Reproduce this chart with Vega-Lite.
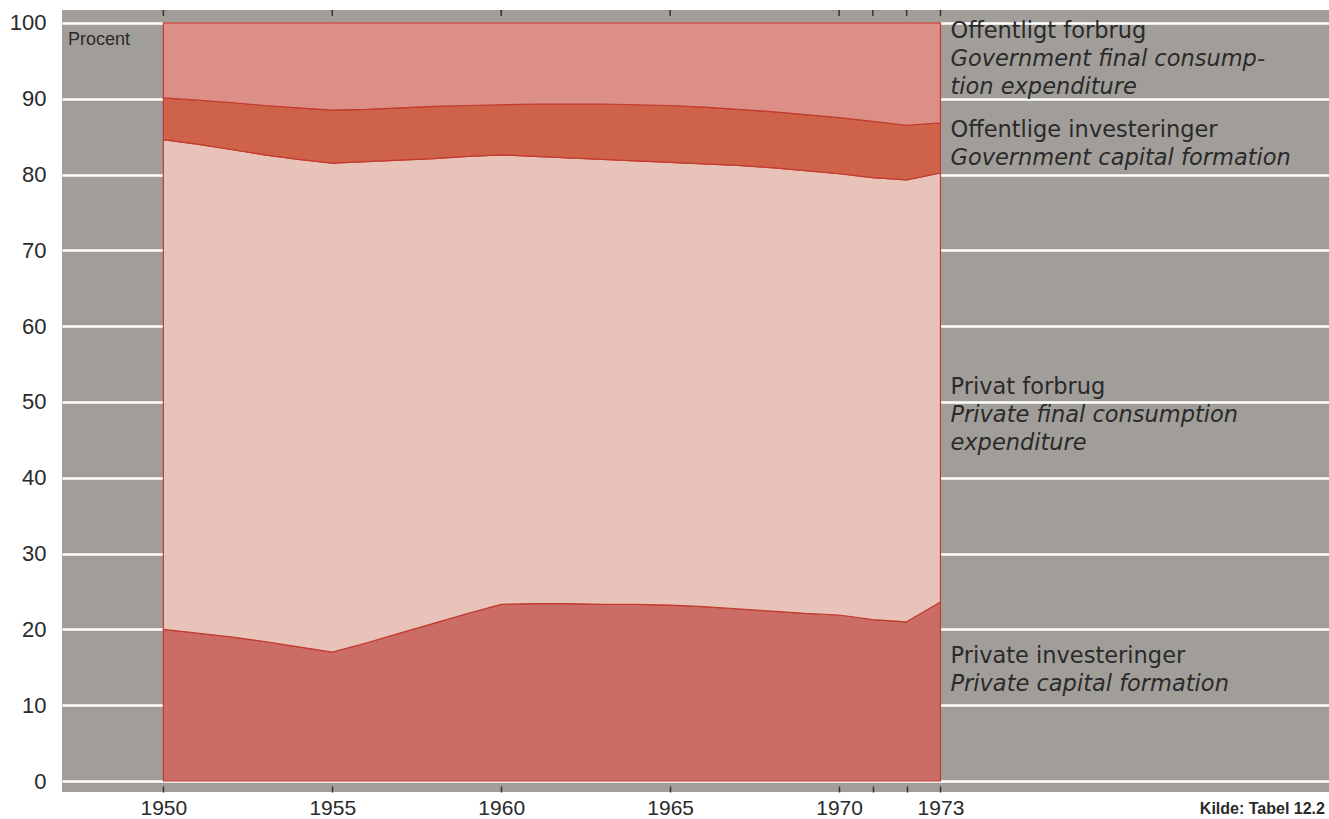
{
  "$schema": "https://vega.github.io/schema/vega-lite/v6.json",
  "width": 1267,
  "height": 782,
  "autosize": {"type": "none"},
  "padding": {"left": 62, "top": 10, "right": 0, "bottom": 27},
  "background": "#ffffff",
  "view": {"fill": "#a19e9a", "stroke": null},
  "config": {"font": "Liberation Sans"},
  "datasets": {
    "shares": [
      {"year":1950,"series":"Private investeringer","rank":1,"value":20.0},
      {"year":1951,"series":"Private investeringer","rank":1,"value":19.5},
      {"year":1952,"series":"Private investeringer","rank":1,"value":19.0},
      {"year":1953,"series":"Private investeringer","rank":1,"value":18.4},
      {"year":1954,"series":"Private investeringer","rank":1,"value":17.7},
      {"year":1955,"series":"Private investeringer","rank":1,"value":17.0},
      {"year":1956,"series":"Private investeringer","rank":1,"value":18.2},
      {"year":1957,"series":"Private investeringer","rank":1,"value":19.5},
      {"year":1958,"series":"Private investeringer","rank":1,"value":20.8},
      {"year":1959,"series":"Private investeringer","rank":1,"value":22.1},
      {"year":1960,"series":"Private investeringer","rank":1,"value":23.3},
      {"year":1961,"series":"Private investeringer","rank":1,"value":23.4},
      {"year":1962,"series":"Private investeringer","rank":1,"value":23.4},
      {"year":1963,"series":"Private investeringer","rank":1,"value":23.3},
      {"year":1964,"series":"Private investeringer","rank":1,"value":23.3},
      {"year":1965,"series":"Private investeringer","rank":1,"value":23.2},
      {"year":1966,"series":"Private investeringer","rank":1,"value":23.0},
      {"year":1967,"series":"Private investeringer","rank":1,"value":22.7},
      {"year":1968,"series":"Private investeringer","rank":1,"value":22.4},
      {"year":1969,"series":"Private investeringer","rank":1,"value":22.1},
      {"year":1970,"series":"Private investeringer","rank":1,"value":21.9},
      {"year":1971,"series":"Private investeringer","rank":1,"value":21.3},
      {"year":1972,"series":"Private investeringer","rank":1,"value":21.0},
      {"year":1973,"series":"Private investeringer","rank":1,"value":23.6},
      {"year":1950,"series":"Privat forbrug","rank":2,"value":64.6},
      {"year":1951,"series":"Privat forbrug","rank":2,"value":64.5},
      {"year":1952,"series":"Privat forbrug","rank":2,"value":64.3},
      {"year":1953,"series":"Privat forbrug","rank":2,"value":64.2},
      {"year":1954,"series":"Privat forbrug","rank":2,"value":64.3},
      {"year":1955,"series":"Privat forbrug","rank":2,"value":64.5},
      {"year":1956,"series":"Privat forbrug","rank":2,"value":63.5},
      {"year":1957,"series":"Privat forbrug","rank":2,"value":62.4},
      {"year":1958,"series":"Privat forbrug","rank":2,"value":61.3},
      {"year":1959,"series":"Privat forbrug","rank":2,"value":60.3},
      {"year":1960,"series":"Privat forbrug","rank":2,"value":59.3},
      {"year":1961,"series":"Privat forbrug","rank":2,"value":59.0},
      {"year":1962,"series":"Privat forbrug","rank":2,"value":58.8},
      {"year":1963,"series":"Privat forbrug","rank":2,"value":58.7},
      {"year":1964,"series":"Privat forbrug","rank":2,"value":58.5},
      {"year":1965,"series":"Privat forbrug","rank":2,"value":58.4},
      {"year":1966,"series":"Privat forbrug","rank":2,"value":58.4},
      {"year":1967,"series":"Privat forbrug","rank":2,"value":58.5},
      {"year":1968,"series":"Privat forbrug","rank":2,"value":58.5},
      {"year":1969,"series":"Privat forbrug","rank":2,"value":58.4},
      {"year":1970,"series":"Privat forbrug","rank":2,"value":58.2},
      {"year":1971,"series":"Privat forbrug","rank":2,"value":58.3},
      {"year":1972,"series":"Privat forbrug","rank":2,"value":58.3},
      {"year":1973,"series":"Privat forbrug","rank":2,"value":56.6},
      {"year":1950,"series":"Offentlige investeringer","rank":3,"value":5.5},
      {"year":1951,"series":"Offentlige investeringer","rank":3,"value":5.8},
      {"year":1952,"series":"Offentlige investeringer","rank":3,"value":6.2},
      {"year":1953,"series":"Offentlige investeringer","rank":3,"value":6.5},
      {"year":1954,"series":"Offentlige investeringer","rank":3,"value":6.8},
      {"year":1955,"series":"Offentlige investeringer","rank":3,"value":7.0},
      {"year":1956,"series":"Offentlige investeringer","rank":3,"value":6.9},
      {"year":1957,"series":"Offentlige investeringer","rank":3,"value":6.9},
      {"year":1958,"series":"Offentlige investeringer","rank":3,"value":6.9},
      {"year":1959,"series":"Offentlige investeringer","rank":3,"value":6.7},
      {"year":1960,"series":"Offentlige investeringer","rank":3,"value":6.6},
      {"year":1961,"series":"Offentlige investeringer","rank":3,"value":6.9},
      {"year":1962,"series":"Offentlige investeringer","rank":3,"value":7.1},
      {"year":1963,"series":"Offentlige investeringer","rank":3,"value":7.3},
      {"year":1964,"series":"Offentlige investeringer","rank":3,"value":7.4},
      {"year":1965,"series":"Offentlige investeringer","rank":3,"value":7.5},
      {"year":1966,"series":"Offentlige investeringer","rank":3,"value":7.5},
      {"year":1967,"series":"Offentlige investeringer","rank":3,"value":7.4},
      {"year":1968,"series":"Offentlige investeringer","rank":3,"value":7.4},
      {"year":1969,"series":"Offentlige investeringer","rank":3,"value":7.4},
      {"year":1970,"series":"Offentlige investeringer","rank":3,"value":7.4},
      {"year":1971,"series":"Offentlige investeringer","rank":3,"value":7.4},
      {"year":1972,"series":"Offentlige investeringer","rank":3,"value":7.2},
      {"year":1973,"series":"Offentlige investeringer","rank":3,"value":6.6},
      {"year":1950,"series":"Offentligt forbrug","rank":4,"value":9.9},
      {"year":1951,"series":"Offentligt forbrug","rank":4,"value":10.2},
      {"year":1952,"series":"Offentligt forbrug","rank":4,"value":10.5},
      {"year":1953,"series":"Offentligt forbrug","rank":4,"value":10.9},
      {"year":1954,"series":"Offentligt forbrug","rank":4,"value":11.2},
      {"year":1955,"series":"Offentligt forbrug","rank":4,"value":11.5},
      {"year":1956,"series":"Offentligt forbrug","rank":4,"value":11.4},
      {"year":1957,"series":"Offentligt forbrug","rank":4,"value":11.2},
      {"year":1958,"series":"Offentligt forbrug","rank":4,"value":11.0},
      {"year":1959,"series":"Offentligt forbrug","rank":4,"value":10.9},
      {"year":1960,"series":"Offentligt forbrug","rank":4,"value":10.8},
      {"year":1961,"series":"Offentligt forbrug","rank":4,"value":10.7},
      {"year":1962,"series":"Offentligt forbrug","rank":4,"value":10.7},
      {"year":1963,"series":"Offentligt forbrug","rank":4,"value":10.7},
      {"year":1964,"series":"Offentligt forbrug","rank":4,"value":10.8},
      {"year":1965,"series":"Offentligt forbrug","rank":4,"value":10.9},
      {"year":1966,"series":"Offentligt forbrug","rank":4,"value":11.1},
      {"year":1967,"series":"Offentligt forbrug","rank":4,"value":11.4},
      {"year":1968,"series":"Offentligt forbrug","rank":4,"value":11.7},
      {"year":1969,"series":"Offentligt forbrug","rank":4,"value":12.1},
      {"year":1970,"series":"Offentligt forbrug","rank":4,"value":12.5},
      {"year":1971,"series":"Offentligt forbrug","rank":4,"value":13.0},
      {"year":1972,"series":"Offentligt forbrug","rank":4,"value":13.5},
      {"year":1973,"series":"Offentligt forbrug","rank":4,"value":13.2}
    ],
    "ticks": [
      {"year":1950},{"year":1955},{"year":1960},{"year":1965},
      {"year":1970},{"year":1971},{"year":1972},{"year":1973}
    ],
    "labels": [
      {"year":1973,"value":98.9,"text":"Offentligt forbrug","style":"normal"},
      {"year":1973,"value":95.2,"text":"Government final consump-","style":"italic"},
      {"year":1973,"value":91.5,"text":"tion expenditure","style":"italic"},
      {"year":1973,"value":85.9,"text":"Offentlige investeringer","style":"normal"},
      {"year":1973,"value":82.2,"text":"Government capital formation","style":"italic"},
      {"year":1973,"value":52.0,"text":"Privat forbrug","style":"normal"},
      {"year":1973,"value":48.3,"text":"Private final consumption","style":"italic"},
      {"year":1973,"value":44.6,"text":"expenditure","style":"italic"},
      {"year":1973,"value":16.5,"text":"Private investeringer","style":"normal"},
      {"year":1973,"value":12.8,"text":"Private capital formation","style":"italic"}
    ],
    "notes": [
      {"year":1947.18,"value":97.7,"text":"Procent","kind":"unit"},
      {"year":1984.38,"value":-3.7,"text":"Kilde: Tabel 12.2","kind":"source"}
    ]
  },
  "layer": [
    {
      "data": {"name": "shares"},
      "mark": {"type": "area", "stroke": "#c23b2e", "strokeWidth": 1.2, "strokeJoin": "round"},
      "encoding": {
        "x": {
          "field": "year", "type": "quantitative",
          "scale": {"domain": [1947, 1984.5], "nice": false, "zero": false},
          "axis": {
            "orient": "bottom", "title": null, "values": [1950,1955,1960,1965,1970,1971,1972,1973],
            "format": "d", "labelExpr": "datum.value == 1971 || datum.value == 1972 ? '' : datum.label",
            "grid": false, "domain": false, "ticks": true, "tickSize": -6, "tickWidth": 1.5, "tickColor": "#333333",
            "labelFontSize": 21, "labelColor": "#2a2a2a", "labelPadding": 11, "labelFont": "Liberation Sans"
          }
        },
        "y": {
          "field": "value", "type": "quantitative", "stack": "zero",
          "scale": {"domain": [-1.45, 101.7], "nice": false, "zero": false},
          "axis": {
            "orient": "left", "title": null, "values": [0,10,20,30,40,50,60,70,80,90,100],
            "grid": true, "gridColor": "#ffffff", "gridWidth": 2.5, "gridOpacity": 1,
            "domain": false, "ticks": false, "labelFontSize": 22, "labelColor": "#2a2a2a",
            "labelPadding": 16, "labelFont": "Liberation Sans"
          }
        },
        "color": {
          "field": "series", "type": "nominal", "legend": null,
          "scale": {
            "domain": ["Private investeringer", "Privat forbrug", "Offentlige investeringer", "Offentligt forbrug"],
            "range": ["#cb6c67", "#e8c3ba", "#cf6349", "#dc8f86"]
          }
        },
        "order": {"field": "rank", "type": "quantitative"}
      }
    },
    {
      "data": {"name": "ticks"},
      "mark": {"type": "rule", "color": "#333333", "strokeWidth": 1.5},
      "encoding": {
        "x": {"field": "year", "type": "quantitative"},
        "y": {"datum": 101.7},
        "y2": {"datum": 100.9}
      }
    },
    {
      "data": {"name": "labels"},
      "transform": [{"filter": "datum.style == 'normal'"}],
      "mark": {"type": "text", "align": "left", "baseline": "middle", "dx": 10, "fontSize": 22.5, "color": "#2a2a2a", "font": "DejaVu Sans"},
      "encoding": {
        "x": {"field": "year", "type": "quantitative"},
        "y": {"field": "value", "type": "quantitative"},
        "text": {"field": "text"}
      }
    },
    {
      "data": {"name": "labels"},
      "transform": [{"filter": "datum.style == 'italic'"}],
      "mark": {"type": "text", "align": "left", "baseline": "middle", "dx": 10, "fontSize": 22.5, "fontStyle": "italic", "color": "#2a2a2a", "font": "DejaVu Sans"},
      "encoding": {
        "x": {"field": "year", "type": "quantitative"},
        "y": {"field": "value", "type": "quantitative"},
        "text": {"field": "text"}
      }
    },
    {
      "data": {"name": "notes"},
      "transform": [{"filter": "datum.kind == 'unit'"}],
      "mark": {"type": "text", "align": "left", "baseline": "middle", "fontSize": 18, "color": "#2a2a2a", "font": "Liberation Sans"},
      "encoding": {
        "x": {"field": "year", "type": "quantitative"},
        "y": {"field": "value", "type": "quantitative"},
        "text": {"field": "text"}
      }
    },
    {
      "data": {"name": "notes"},
      "transform": [{"filter": "datum.kind == 'source'"}],
      "mark": {"type": "text", "align": "right", "baseline": "middle", "fontSize": 16, "fontWeight": "bold", "color": "#2a2a2a", "font": "Liberation Sans"},
      "encoding": {
        "x": {"field": "year", "type": "quantitative"},
        "y": {"field": "value", "type": "quantitative"},
        "text": {"field": "text"}
      }
    }
  ]
}
